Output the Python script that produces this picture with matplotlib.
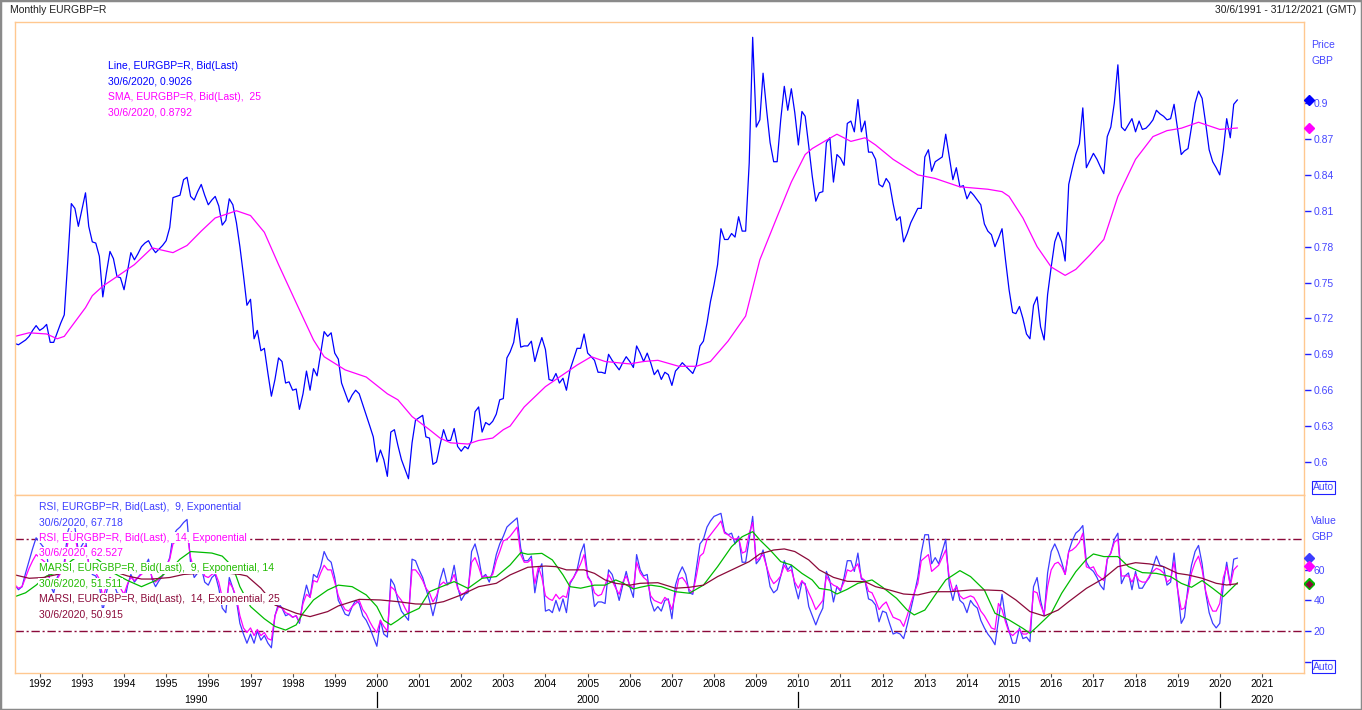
import matplotlib
matplotlib.use("Agg")
import matplotlib.pyplot as plt
import matplotlib.dates as mdates
from matplotlib.patches import Rectangle
import pandas as pd

plt.rcParams['font.family'] = ['Liberation Sans', 'DejaVu Sans']

# monthly bars, June 1991 .. June 2020 (plotted at month start)
months = pd.date_range('1991-06-01', '2020-06-01', freq='MS')

# EURGBP=R bid, one row per year (1991 = Jun..Dec, 2020 = Jan..Jun)
price = [
    0.699, 0.698, 0.700, 0.702, 0.705, 0.710, 0.714,
    0.710, 0.712, 0.715, 0.700, 0.700, 0.708, 0.716, 0.723, 0.769, 0.816, 0.812, 0.797,
    0.811, 0.825, 0.797, 0.784, 0.783, 0.772, 0.738, 0.758, 0.776, 0.770, 0.755, 0.754,
    0.744, 0.760, 0.775, 0.769, 0.774, 0.780, 0.783, 0.785, 0.779, 0.775, 0.778, 0.781,
    0.785, 0.796, 0.821, 0.822, 0.823, 0.836, 0.838, 0.822, 0.819, 0.826, 0.832, 0.823,
    0.815, 0.819, 0.822, 0.814, 0.798, 0.802, 0.820, 0.815, 0.800, 0.780, 0.756, 0.731,
    0.736, 0.703, 0.710, 0.693, 0.695, 0.674, 0.655, 0.669, 0.687, 0.684, 0.666, 0.667,
    0.660, 0.661, 0.644, 0.657, 0.676, 0.660, 0.678, 0.672, 0.691, 0.709, 0.705, 0.708,
    0.691, 0.686, 0.666, 0.658, 0.650, 0.656, 0.660, 0.657, 0.648, 0.639, 0.630, 0.621,
    0.600, 0.610, 0.602, 0.588, 0.625, 0.627, 0.614, 0.602, 0.594, 0.586, 0.616, 0.635,
    0.637, 0.639, 0.621, 0.620, 0.598, 0.600, 0.614, 0.627, 0.618, 0.618, 0.628, 0.613,
    0.609, 0.613, 0.611, 0.618, 0.642, 0.646, 0.625, 0.633, 0.631, 0.634, 0.640, 0.652,
    0.653, 0.687, 0.692, 0.700, 0.720, 0.696, 0.697, 0.697, 0.701, 0.684, 0.695, 0.704,
    0.694, 0.669, 0.668, 0.674, 0.666, 0.670, 0.660, 0.677, 0.686, 0.695, 0.695, 0.707,
    0.691, 0.688, 0.685, 0.675, 0.675, 0.674, 0.690, 0.685, 0.681, 0.677, 0.683, 0.688,
    0.684, 0.679, 0.697, 0.691, 0.684, 0.691, 0.683, 0.673, 0.677, 0.669, 0.675, 0.673,
    0.664, 0.676, 0.679, 0.683, 0.680, 0.677, 0.674, 0.681, 0.697, 0.701, 0.716, 0.734,
    0.748, 0.765, 0.795, 0.786, 0.786, 0.791, 0.788, 0.805, 0.793, 0.793, 0.850, 0.955,
    0.880, 0.886, 0.925, 0.894, 0.867, 0.851, 0.851, 0.886, 0.914, 0.894, 0.912, 0.892,
    0.865, 0.893, 0.889, 0.864, 0.839, 0.818, 0.825, 0.826, 0.867, 0.871, 0.834, 0.857,
    0.854, 0.848, 0.883, 0.885, 0.876, 0.903, 0.876, 0.885, 0.859, 0.859, 0.853, 0.832,
    0.830, 0.837, 0.833, 0.816, 0.802, 0.805, 0.784, 0.791, 0.800, 0.806, 0.812, 0.812,
    0.855, 0.861, 0.843, 0.851, 0.853, 0.855, 0.874, 0.855, 0.836, 0.846, 0.830, 0.831,
    0.820, 0.826, 0.823, 0.819, 0.815, 0.799, 0.793, 0.790, 0.780, 0.787, 0.795, 0.769,
    0.744, 0.725, 0.724, 0.730, 0.720, 0.707, 0.703, 0.731, 0.738, 0.713, 0.702, 0.740,
    0.763, 0.784, 0.792, 0.784, 0.768, 0.832, 0.845, 0.857, 0.866, 0.896, 0.846, 0.852,
    0.858, 0.853, 0.847, 0.841, 0.872, 0.880, 0.900, 0.932, 0.880, 0.877, 0.882, 0.887,
    0.876, 0.885, 0.878, 0.879, 0.882, 0.886, 0.894, 0.891, 0.889, 0.886, 0.887, 0.899,
    0.878, 0.857, 0.860, 0.862, 0.880, 0.900, 0.910, 0.904, 0.883, 0.861, 0.851, 0.846,
    0.840, 0.861, 0.887, 0.871, 0.899, 0.9026,
]

# SMA 25, read at selected months (index into months)
sma_idx = [0, 4, 9, 12, 14, 16, 20, 22, 25, 29, 34, 39, 45, 49, 53, 57, 63, 67, 71, 75,
           80, 85, 88, 94, 100, 106, 109, 113, 118, 121, 124, 129, 132, 136, 139, 141, 145,
           151, 156, 160, 164, 168, 175, 179, 183, 189, 194, 198, 203, 208, 212, 217, 221,
           225, 227, 231, 234, 238, 242, 245, 250, 257, 262, 269, 277, 281, 283, 287, 291,
           295, 299, 302, 306, 310, 314, 319, 324, 328, 332, 337, 343, 348]
sma_val = [0.705, 0.708, 0.707, 0.703, 0.705, 0.713, 0.729, 0.739, 0.747, 0.755, 0.765,
           0.779, 0.775, 0.781, 0.793, 0.804, 0.810, 0.806, 0.792, 0.765, 0.733, 0.702,
           0.688, 0.677, 0.671, 0.657, 0.652, 0.638, 0.627, 0.620, 0.616, 0.615, 0.618,
           0.620, 0.627, 0.630, 0.646, 0.663, 0.673, 0.681, 0.688, 0.684, 0.682, 0.684,
           0.685, 0.680, 0.680, 0.684, 0.701, 0.722, 0.769, 0.805, 0.834, 0.857, 0.862,
           0.869, 0.874, 0.868, 0.871, 0.865, 0.853, 0.840, 0.837, 0.830, 0.828, 0.826,
           0.822, 0.804, 0.780, 0.763, 0.756, 0.761, 0.773, 0.786, 0.822, 0.853, 0.872,
           0.877, 0.879, 0.884, 0.878, 0.8792]

# RSI 9 exponential, monthly
rsi9 = [
    50, 47, 49, 58, 66, 74, 81,
    78, 75, 72, 50, 45, 55, 60, 65, 85, 92, 88, 72,
    76, 80, 64, 57, 56, 50, 33, 45, 55, 52, 45, 44,
    38, 50, 57, 52, 55, 58, 62, 67, 54, 49, 53, 56,
    62, 68, 82, 86, 88, 91, 93, 64, 55, 58, 62, 52,
    50, 55, 57, 48, 35, 32, 55, 48, 40, 25, 18, 12,
    18, 12, 20, 14, 17, 12, 9, 30, 38, 35, 30, 31,
    29, 30, 25, 40, 50, 42, 57, 55, 62, 72, 67, 65,
    55, 40, 36, 31, 30, 36, 40, 38, 30, 27, 22, 16,
    10, 27, 18, 16, 54, 50, 40, 33, 30, 27, 67, 66,
    60, 55, 48, 40, 30, 40, 53, 61, 51, 52, 63, 49,
    40, 44, 45, 72, 77, 68, 55, 57, 52, 59, 70, 77,
    82, 88, 90, 92, 94, 74, 66, 66, 69, 45, 59, 64,
    33, 34, 32, 40, 33, 41, 32, 51, 55, 60, 71, 77,
    56, 52, 36, 39, 39, 38, 60, 57, 49, 40, 50, 59,
    49, 42, 70, 60, 56, 57, 40, 33, 36, 33, 40, 41,
    28, 50, 57, 62, 57, 45, 44, 61, 77, 80, 88, 92,
    95, 96, 97, 85, 83, 84, 77, 82, 65, 65, 80, 95,
    64, 67, 73, 62, 49, 45, 47, 56, 66, 60, 63, 50,
    41, 52, 51, 36, 30, 24, 30, 35, 59, 53, 39, 49,
    46, 55, 66, 66, 59, 71, 54, 53, 41, 40, 37, 26,
    33, 32, 25, 18, 19, 18, 15, 24, 34, 44, 55, 71,
    83, 83, 64, 68, 64, 72, 80, 50, 40, 50, 40, 38,
    32, 40, 37, 35, 27, 22, 18, 15, 11, 27, 44, 28,
    20, 12, 12, 22, 15, 16, 13, 49, 55, 40, 30, 58,
    72, 77, 72, 65, 57, 72, 79, 84, 86, 89, 65, 61,
    59, 55, 50, 47, 67, 71, 80, 84, 51, 56, 58, 47,
    59, 48, 48, 52, 55, 62, 69, 63, 62, 50, 52, 71,
    47, 25, 29, 49, 63, 72, 76, 64, 45, 32, 25, 22,
    25, 50, 65, 50, 67, 67.718,
]

# RSI 14 exponential, monthly
rsi14 = [
    50, 48, 49, 55, 61, 66, 70,
    68, 66, 64, 52, 49, 54, 58, 62, 78, 85, 82, 71,
    73, 76, 64, 59, 58, 54, 42, 49, 55, 53, 49, 48,
    44, 51, 55, 53, 55, 57, 59, 63, 55, 52, 54, 56,
    62, 67, 77, 79, 80, 83, 84, 68, 60, 61, 63, 56,
    55, 57, 58, 52, 42, 38, 52, 48, 42, 30, 22, 19,
    22, 17, 21, 17, 19, 15, 14, 30, 36, 35, 32, 31,
    29, 30, 26, 38, 44, 42, 53, 52, 58, 63, 60, 60,
    52, 43, 38, 34, 33, 36, 38, 40, 34, 31, 26, 22,
    19, 27, 23, 20, 49, 47, 43, 40, 35, 31, 60, 60,
    57, 53, 48, 45, 39, 43, 50, 52, 50, 52, 57, 48,
    44, 45, 47, 65, 68, 62, 55, 56, 55, 57, 66, 72,
    79, 80, 82, 85, 88, 70, 65, 65, 67, 51, 62, 55,
    43, 41, 40, 44, 41, 43, 42, 52, 55, 59, 64, 70,
    55, 52, 45, 43, 44, 50, 57, 53, 48, 44, 52, 56,
    50, 48, 65, 58, 55, 53, 43, 40, 39, 38, 42, 40,
    34, 44, 54, 55, 52, 47, 45, 56, 69, 71, 80, 83,
    86, 89, 92, 84, 83, 81, 80, 81, 71, 72, 84, 91,
    66, 68, 70, 62, 55, 51, 53, 56, 63, 59, 60, 52,
    48, 53, 50, 45, 40, 34, 37, 40, 56, 52, 50, 49,
    47, 52, 60, 59, 61, 64, 55, 53, 46, 45, 40, 34,
    37, 39, 34, 29, 28, 27, 23, 30, 38, 45, 51, 66,
    68, 70, 59, 61, 63, 68, 73, 55, 46, 49, 43, 41,
    42, 43, 42, 38, 33, 30, 26, 22, 21, 38, 34, 26,
    19, 17, 19, 21, 18, 18, 20, 46, 45, 37, 31, 49,
    60, 64, 65, 62, 57, 72, 73, 75, 78, 84, 62, 61,
    62, 57, 55, 53, 67, 71, 78, 80, 56, 56, 56, 52,
    57, 53, 52, 52, 56, 59, 61, 60, 58, 52, 54, 65,
    47, 34, 35, 45, 58, 65, 69, 60, 46, 38, 33, 33,
    38, 55, 62, 50, 60, 62.527,
]

# MARSI 9 (EMA 14 of RSI 9), read at selected months
marsi9_idx = [0, 3, 6, 9, 13, 16, 20, 24, 28, 32, 36, 40, 44, 47, 50, 56, 59, 62, 64, 67,
              71, 74, 77, 80, 82, 85, 89, 92, 96, 100, 103, 105, 107, 109, 111, 115, 118,
              121, 125, 129, 133, 137, 141, 144, 146, 150, 153, 156, 158, 161, 165, 168,
              171, 173, 176, 178, 181, 184, 188, 192, 196, 200, 204, 207, 210, 212, 215,
              218, 221, 224, 227, 229, 232, 234, 237, 240, 244, 247, 251, 254, 256, 259,
              262, 265, 269, 272, 276, 279, 283, 287, 289, 291, 295, 298, 302, 305, 307,
              310, 314, 317, 321, 325, 329, 332, 335, 338, 341, 344, 348]
marsi9_val = [42.5, 45, 50, 56, 59, 66, 72, 66, 58, 53, 49, 53, 60, 67, 72, 71, 69, 62,
              49, 36, 28, 23, 20.6, 24, 31.6, 40.3, 46.8, 50, 49, 43.6, 36, 27, 24, 27,
              30.5, 34.8, 45.7, 48.6, 52.3, 47.9, 54.5, 55.6, 63.2, 71.3, 70.2, 70.8,
              66.5, 56.7, 49, 48, 50, 50, 53.4, 51.5, 47.5, 48.6, 50, 49, 45.7, 44.7, 50,
              62.1, 75.2, 81.7, 85, 79.6, 73, 65.4, 63.2, 57.7, 53.4, 47.9, 46.8, 44.2,
              47.3, 51.2, 53.4, 48.6, 41.4, 33.7, 30.5, 33.7, 43.6, 53.4, 59.5, 55.6,
              46.8, 31.6, 27.2, 21.7, 18.5, 22.8, 31.6, 44.7, 58.8, 66.9, 70.4, 68.7,
              68.7, 62.1, 58.2, 57.7, 55.6, 51.2, 48.6, 53, 47.9, 42.5, 51.511]

# MARSI 14 (EMA 25 of RSI 14), read at selected months
marsi14_idx = [0, 4, 8, 12, 16, 20, 24, 28, 32, 36, 39, 44, 48, 54, 60, 64, 66, 70, 74,
               80, 84, 89, 92, 98, 104, 109, 114, 118, 122, 127, 132, 137, 141, 146, 151,
               154, 157, 162, 165, 168, 171, 175, 178, 183, 188, 192, 196, 200, 205, 209,
               212, 216, 219, 222, 226, 229, 233, 237, 242, 245, 249, 253, 257, 261, 266,
               272, 277, 281, 285, 289, 293, 297, 300, 305, 310, 314, 319, 323, 327, 331,
               334, 338, 342, 345, 348]
marsi14_val = [56.7, 54.5, 55, 57, 60, 63, 62, 59, 56, 54, 54, 55, 57, 58, 58, 57, 56, 48,
               37, 31.6, 29.4, 32.7, 36.4, 40.7, 40.3, 39.2, 37.7, 37.5, 39.2, 43.6, 49,
               51.2, 56.7, 61.7, 62.5, 62.1, 60, 60, 57.7, 53.4, 51.2, 50, 51.2, 51.6, 48,
               48.6, 50, 55.6, 61, 65.4, 70.4, 73, 73.7, 72, 66.5, 60, 55.1, 52.5, 52.3,
               49, 46.8, 44.2, 43.6, 45.7, 45.7, 46.8, 46.8, 46.4, 40.3, 32.7, 29.8, 33.7,
               39.2, 47.9, 54.5, 62.1, 64.7, 63.9, 62.1, 57.7, 56.7, 54.5, 51.2, 50.1,
               50.915]

price_ticks = [0.6, 0.63, 0.66, 0.69, 0.72, 0.75, 0.78, 0.81, 0.84, 0.87, 0.9]
rsi_ticks = [0, 20, 40, 60]

BLUE = '#0000FF'
RSI_BLUE = '#3C3CFF'
MAGENTA = '#FF00FF'
GREEN = '#00BB00'
MAROON = '#8B0A3A'
ORANGE = '#FFC890'
AXBLUE = '#4646FF'
FS = 7.5

W, H = 1362, 710
fig = plt.figure(figsize=(W / 100, H / 100), dpi=100)


def box(x0, y0, x1, y1):
    return [x0 / W, 1 - y1 / H, (x1 - x0) / W, (y1 - y0) / H]


def ftext(x, y, s, **kw):
    kw.setdefault('fontsize', FS)
    kw.setdefault('va', 'center')
    return fig.text(x / W, 1 - y / H, s, **kw)


ax1 = fig.add_axes(box(15, 22, 1304, 495))
ax2 = fig.add_axes(box(15, 495, 1304, 673), sharex=ax1)

for ax in (ax1, ax2):
    for sp in ax.spines.values():
        sp.set_color(ORANGE)
        sp.set_linewidth(1)
    ax.yaxis.tick_right()
    ax.tick_params(axis='y', direction='out', length=5, width=1, color='#2020FF',
                   labelcolor=AXBLUE, labelsize=FS, pad=2)

# price panel
ax1.plot(months, price, color=BLUE, lw=0.9)
ax1.plot(months[sma_idx], sma_val, color=MAGENTA, lw=0.9)
ax1.set_ylim(0.5724, 0.9678)
ax1.set_yticks(price_ticks)
ax1.set_yticklabels([f'{v:g}' for v in price_ticks])
ax1.tick_params(axis='x', bottom=False, labelbottom=False)

# indicator panel
ax2.axhline(80, color=MAROON, lw=1, dashes=(6, 2, 1.5, 2))
ax2.axhline(20, color=MAROON, lw=1, dashes=(6, 2, 1.5, 2))
ax2.plot(months, rsi9, color=RSI_BLUE, lw=0.9)
ax2.plot(months, rsi14, color=MAGENTA, lw=0.9)
ax2.plot(months[marsi9_idx], marsi9_val, color=GREEN, lw=0.9)
ax2.plot(months[marsi14_idx], marsi14_val, color=MAROON, lw=0.9)
ax2.set_ylim(-7.5, 109)
ax2.set_yticks(rsi_ticks)
ax2.set_yticklabels(['' if v == 0 else str(v) for v in rsi_ticks])

ax2.set_xlim(pd.Timestamp('1991-06-01'), pd.Timestamp('2021-12-31'))
ax2.xaxis.set_major_locator(mdates.YearLocator())
ax2.xaxis.set_major_formatter(mdates.DateFormatter('%Y'))
ax2.tick_params(axis='x', direction='out', length=3, color='#505050',
                labelsize=FS, labelcolor='black', pad=1.5)

# decade row under the years
xt = ax2.get_xaxis_transform()
x0, x1 = ax2.get_xlim()
for dec in [1990, 2000, 2010, 2020]:
    a = max(mdates.date2num(pd.Timestamp(f'{dec}-01-01')), x0)
    b = min(mdates.date2num(pd.Timestamp(f'{dec + 10}-01-01')), x1)
    ax2.text((a + b) / 2, -0.152, str(dec), transform=xt, ha='center', va='center',
             fontsize=FS, clip_on=False)
    if dec > 1990:
        xd = mdates.date2num(pd.Timestamp(f'{dec}-01-01'))
        ax2.plot([xd, xd], [-0.105, -0.19], transform=xt, color='black', lw=0.9,
                 clip_on=False)

# last-value diamonds on the right edge
dx = 1 + 5 / 1289
for ax, val, col in [(ax1, price[-1], BLUE), (ax1, sma_val[-1], MAGENTA),
                     (ax2, rsi9[-1], RSI_BLUE), (ax2, rsi14[-1], MAGENTA),
                     (ax2, marsi9_val[-1], GREEN), (ax2, marsi14_val[-1], MAROON)]:
    ax.plot([dx], [val], transform=ax.get_yaxis_transform(), marker='D', ms=5,
            color=col, mec=GREEN if col == MAROON else col, clip_on=False, zorder=5)

# header
ftext(10, 10, 'Monthly EURGBP=R', ha='left', color='#202020')
ftext(1356, 10, '30/6/1991 - 31/12/2021 (GMT)', ha='right', color='#202020')

# axis captions and Auto boxes
ftext(1311, 45, 'Price', color=AXBLUE)
ftext(1311, 61, 'GBP', color=AXBLUE)
ftext(1311, 521, 'Value', color=AXBLUE)
ftext(1311, 537, 'GBP', color=AXBLUE)
for yy in (487.5, 666.5):
    ftext(1313, yy, 'Auto', color=AXBLUE,
          bbox=dict(facecolor='white', edgecolor='#2020FF', lw=0.8, pad=1.0))

# legends
price_leg = [('Line, EURGBP=R, Bid(Last)', BLUE), ('30/6/2020, 0.9026', BLUE),
             ('SMA, EURGBP=R, Bid(Last),  25', MAGENTA), ('30/6/2020, 0.8792', MAGENTA)]
for i, (s, c) in enumerate(price_leg):
    ftext(108, 66 + i * 15.5, s, color=c)

rsi_leg = [('RSI, EURGBP=R, Bid(Last),  9, Exponential', RSI_BLUE),
           ('30/6/2020, 67.718', RSI_BLUE),
           ('RSI, EURGBP=R, Bid(Last),  14, Exponential', MAGENTA),
           ('30/6/2020, 62.527', MAGENTA),
           ('MARSI, EURGBP=R, Bid(Last),  9, Exponential, 14', '#22BB00'),
           ('30/6/2020, 51.511', '#22BB00'),
           ('MARSI, EURGBP=R, Bid(Last),  14, Exponential, 25', MAROON),
           ('30/6/2020, 50.915', MAROON)]
for i, (s, c) in enumerate(rsi_leg):
    ftext(39, 507 + i * 15.3, s, color=c,
          bbox=dict(facecolor='white', edgecolor='none', pad=0.6))

# window frame
fig.patches.append(Rectangle((0, 0), 1, 1, transform=fig.transFigure, fill=False,
                             edgecolor='#8A8A8A', lw=2.5))

fig.savefig('out.png', dpi=100)
